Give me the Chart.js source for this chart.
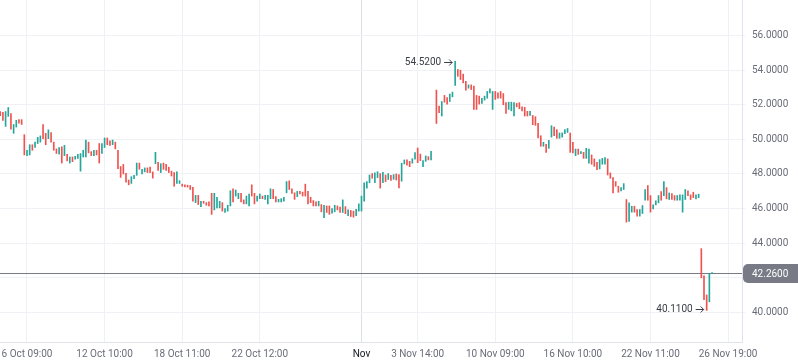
<!DOCTYPE html>
<html>
<head>
<meta charset="utf-8">
<script src="https://cdn.jsdelivr.net/npm/chart.js@4.4.1/dist/chart.umd.min.js"></script>
<style>
  html, body { margin: 0; padding: 0; background: #ffffff; }
  #wrap { width: 798px; height: 363px; }
</style>
</head>
<body>
<div id="wrap"><canvas id="priceChart"></canvas></div>
<script>
// Candle data (open / close per bar slot, null = empty slot)
const opens = [
  51.61, 51.57, 50.75, 51.33, 51.49, 50.35, 50.71, 51.14, 51.14, 50.27,
  49.06, 49.10, 49.69, 49.53, 49.76, 49.84, 50.86, 50.35, 50.04, 50.39,
  49.84, 49.45, 49.14, 49.57, 49.06, 49.14, 48.63, 48.98, 48.86, 48.90,
  48.16, 48.98, 48.98, 49.84, 49.29, 49.06, 49.37, 49.76, 49.18, 49.53,
  50.08, 49.92, 49.69, 49.84, 49.37, 48.43, 48.55, 48.04, 47.65, 47.45,
  47.73, 47.92, 48.63, 48.00, 48.12, 48.35, 48.39, 48.12, 48.59, 48.67,
  48.08, 48.63, 48.55, 48.39, 48.16, 48.08, 47.45, 47.45, 47.41, 47.37,
  47.35, 47.33, 47.22, 46.34, 46.76, 46.11, 46.42, 46.34, 46.38, 46.88,
  45.92, 46.04, 46.04, 46.34, 45.77, 45.85, 46.15, 47.14, 46.72, 46.57,
  46.88, 46.50, 46.27, 46.15, 47.37, 46.88, 46.42, 46.57, 46.72, 46.53,
  46.27, 46.57, 47.10, 46.69, 46.38, 46.38, 46.42, 46.91, 47.60, 47.14,
  46.91, 46.69, 46.99, 46.95, 47.41, 46.99, 46.65, 46.46, 46.38, 46.15,
  46.23, 45.47, 46.15, 46.15, 45.73, 45.81, 46.15, 46.08, 45.77, 46.11,
  45.58, 45.89, 45.85, 45.58, 45.85, 45.85, 46.42, 47.18, 47.49, 48.02,
  47.49, 47.79, 48.02, 47.49, 47.94, 47.68, 47.92, 47.69, 48.00, 47.96,
  47.58, 48.58, 48.81, 48.73, 48.62, 48.85, 49.50, 49.15, 48.42, 48.73,
  49.00, 48.81, null, 52.85, 51.92, 51.35, 52.54, 52.42, 52.19, 52.46,
  53.12, 54.04, 54.00, 53.77, 53.35, 52.96, 53.15, 53.08, 52.54, 52.50,
  52.08, 52.27, 52.38, 52.69, 51.73, 52.77, 52.69, 52.77, 52.65, 52.12,
  51.73, 51.65, 51.35, 52.08, 52.12, 51.88, 51.85, 51.62, 51.38, 51.38,
  51.31, 50.92, 50.21, 49.60, 49.71, 49.48, 50.13, 50.71, 50.56, 50.06,
  50.13, 50.33, 50.40, 50.37, 49.83, 49.06, 49.44, 49.17, 49.25, 48.90,
  48.63, 49.10, 48.87, 48.67, 48.29, 48.56, 48.56, 48.87, 48.06, 47.79,
  47.56, 47.29, 47.02, 47.10, 46.52, 45.25, 45.79, 46.13, 45.94, 45.56,
  45.71, 46.48, 47.33, 46.75, 45.98, 46.21, 46.33, 46.98, 46.75, 47.21,
  46.52, 46.87, 46.75, 46.48, 46.48, 45.79, 46.52, 47.02, 46.79, 46.94,
  46.56, 46.63, 43.68, 42.10, 41.00, 40.60, 42.23
];
const closes = [
  51.37, 51.10, 51.61, 51.84, 50.59, 50.86, 51.10, 50.94, 50.86, 49.10,
  49.37, 49.69, 49.37, 49.84, 50.12, 50.20, 50.04, 49.69, 50.55, 49.84,
  49.37, 49.18, 49.53, 48.63, 49.65, 48.75, 48.98, 48.71, 49.02, 49.14,
  49.18, 49.37, 49.96, 49.22, 49.06, 49.37, 49.10, 48.63, 49.76, 50.08,
  49.69, 49.65, 49.96, 49.45, 48.31, 47.80, 48.00, 47.53, 47.37, 47.84,
  47.92, 48.63, 48.27, 48.27, 48.35, 48.08, 48.08, 47.76, 49.25, 48.20,
  48.59, 48.27, 48.20, 48.08, 47.88, 47.29, 48.12, 47.61, 47.29, 47.25,
  47.24, 47.10, 46.42, 46.76, 46.23, 46.42, 46.30, 46.19, 46.15, 45.66,
  46.88, 46.65, 46.42, 45.85, 46.00, 46.19, 47.03, 46.38, 47.07, 46.88,
  46.38, 46.27, 46.72, 46.84, 46.72, 46.27, 46.72, 46.84, 46.57, 46.76,
  46.76, 47.14, 46.57, 46.38, 46.53, 46.57, 46.65, 47.56, 47.10, 46.88,
  46.53, 46.99, 46.84, 46.72, 46.72, 46.27, 46.34, 46.15, 46.15, 46.42,
  45.81, 46.19, 45.77, 45.66, 46.00, 46.19, 45.92, 45.77, 46.50, 45.70,
  45.92, 45.54, 45.50, 45.96, 46.27, 46.72, 47.49, 47.56, 47.94, 47.75,
  48.06, 48.13, 47.18, 48.10, 47.56, 48.02, 47.62, 47.96, 47.65, 47.19,
  48.62, 48.81, 48.50, 48.42, 48.88, 49.23, 48.65, 48.77, 48.77, 49.04,
  48.81, 49.31, null, 50.92, 51.54, 52.19, 52.15, 52.04, 52.62, 52.73,
  54.52, 53.65, 53.46, 53.27, 52.85, 53.15, 52.88, 51.73, 51.73, 52.04,
  52.38, 52.50, 52.77, 52.92, 52.77, 52.31, 52.38, 52.38, 52.00, 51.50,
  52.15, 52.15, 52.12, 51.88, 51.77, 51.65, 51.35, 51.35, 51.62, 50.85,
  50.81, 50.08, 49.60, 49.83, 49.25, 49.94, 50.79, 50.21, 50.06, 50.37,
  50.37, 50.56, 50.63, 49.25, 49.21, 49.44, 49.13, 49.29, 48.90, 49.48,
  49.44, 48.56, 48.44, 48.25, 48.83, 48.90, 48.94, 47.94, 47.75, 46.90,
  47.29, 46.94, 47.21, 47.44, 45.21, 46.33, 46.13, 45.79, 45.56, 45.94,
  46.17, 47.10, 46.48, 45.79, 46.21, 46.44, 46.75, 46.48, 47.56, 46.56,
  46.90, 46.52, 46.48, 46.75, 46.79, 46.79, 47.10, 46.75, 46.52, 46.63,
  46.79, 46.83, 41.99, 40.73, 40.11, 42.23, 42.26
];

// x-axis ticks (bar slot index) and their labels
const tickIdx = [10, 39, 68, 97, 135, 156, 185, 214, 243, 272];
const tickLabels = ["6 Oct 09:00", "12 Oct 10:00", "18 Oct 11:00", "22 Oct 12:00", "Nov",
  "3 Nov 14:00", "10 Nov 09:00", "16 Nov 10:00", "22 Nov 11:00", "26 Nov 19:00"];

// y-axis ticks
const priceTicks = [40, 42, 44, 46, 48, 50, 52, 54, 56];
const lastPrice = 42.26;

const UP = "#26a69a";
const DOWN = "#ef5350";

Chart.defaults.font.family = "Roboto, sans-serif";
Chart.defaults.font.size = 10;

const candles = [];
opens.forEach(function (o, i) {
  if (o === null) return;
  candles.push({ x: i, y: [o, closes[i]], up: closes[i] >= o });
});

// high / low markers
let hiIdx = 0, loIdx = 0;
opens.forEach(function (o, i) {
  if (o === null) return;
  const hi = Math.max(o, closes[i]), lo = Math.min(o, closes[i]);
  if (hi > Math.max(opens[hiIdx], closes[hiIdx])) hiIdx = i;
  if (lo < Math.min(opens[loIdx], closes[loIdx])) loIdx = i;
});

// text + small arrow pointing at a candle
function markLabel(ctx, text, x, y) {
  ctx.textAlign = "right";
  ctx.fillText(text, x - 14, y);
  ctx.beginPath();
  ctx.moveTo(x - 11, y + 0.5);
  ctx.lineTo(x - 3, y + 0.5);
  ctx.moveTo(x - 6, y - 2.5);
  ctx.lineTo(x - 3, y + 0.5);
  ctx.lineTo(x - 6, y + 3.5);
  ctx.stroke();
}

const overlayPlugin = {
  id: "overlay",
  beforeDatasetsDraw(chart) {
    const { ctx, chartArea, scales } = chart;
    const y = Math.round(scales.y.getPixelForValue(lastPrice)) + 0.5;
    ctx.save();
    ctx.strokeStyle = "#787b86";
    ctx.lineWidth = 1;
    ctx.beginPath();
    ctx.moveTo(chartArea.left, y);
    ctx.lineTo(chartArea.right, y);
    ctx.stroke();
    ctx.restore();
  },
  afterDraw(chart) {
    const { ctx, chartArea, scales } = chart;
    const y = Math.round(scales.y.getPixelForValue(lastPrice)) + 0.5;
    ctx.save();
    // last price tag
    ctx.fillStyle = "#787b86";
    ctx.beginPath();
    ctx.roundRect(chartArea.right + 1, y - 9.5, 70, 19, 5);
    ctx.fill();
    ctx.fillStyle = "#ffffff";
    ctx.font = "10px Roboto, sans-serif";
    ctx.textBaseline = "middle";
    ctx.textAlign = "left";
    ctx.fillText(lastPrice.toFixed(4), chartArea.right + 10, y + 0.5);

    // high / low labels
    ctx.fillStyle = "#3b3e47";
    ctx.strokeStyle = "#3b3e47";
    ctx.lineWidth = 1;
    const hv = Math.max(opens[hiIdx], closes[hiIdx]);
    const lv = Math.min(opens[loIdx], closes[loIdx]);
    markLabel(ctx, hv.toFixed(4), scales.x.getPixelForValue(hiIdx), Math.round(scales.y.getPixelForValue(hv)) + 1);
    markLabel(ctx, lv.toFixed(4), scales.x.getPixelForValue(loIdx), Math.round(scales.y.getPixelForValue(lv)) - 1);
    ctx.restore();
  }
};

new Chart(document.getElementById("priceChart"), {
  type: "bar",
  data: {
    datasets: [{
      data: candles,
      backgroundColor: function (c) { return c.raw && c.raw.up ? UP : DOWN; },
      barThickness: 1,
      minBarLength: 1,
      borderSkipped: false,
    }],
  },
  options: {
    responsive: true,
    maintainAspectRatio: false,
    animation: false,
    layout: { padding: 0 },
    plugins: { legend: { display: false }, tooltip: { enabled: false } },
    scales: {
      x: {
        type: "linear",
        min: -0.09,
        max: 277.2,
        offset: false,
        grid: {
          offset: false,
          drawTicks: false,
          color: function (c) { return tickLabels[c.index] === "Nov" ? "#dcdfe5" : "#eff1f4"; },
        },
        border: { color: "#e0e3eb" },
        afterBuildTicks: function (s) { s.ticks = tickIdx.map(function (v) { return { value: v }; }); },
        afterFit: function (s) { s.height = 21; s.paddingLeft = 0; s.paddingRight = 0; },
        ticks: {
          autoSkip: false,
          maxRotation: 0,
          padding: 6,
          color: function (c) { return tickLabels[c.index] === "Nov" ? "#131722" : "#6a6d78"; },
          callback: function (v, i) { return tickLabels[i]; },
        },
      },
      y: {
        position: "right",
        min: 38.28,
        max: 58.06,
        grid: { color: "#eff1f4", tickLength: 3 },
        border: { color: "#e0e3eb" },
        afterBuildTicks: function (s) { s.ticks = priceTicks.map(function (v) { return { value: v }; }); },
        afterFit: function (s) { s.width = 56; s.paddingTop = 0; s.paddingBottom = 0; },
        ticks: {
          padding: 7,
          color: "#6a6d78",
          callback: function (v) { return Math.abs(v - lastPrice) < 0.8 ? "" : v.toFixed(4); },
        },
      },
    },
  },
  plugins: [overlayPlugin],
});
</script>
</body>
</html>
